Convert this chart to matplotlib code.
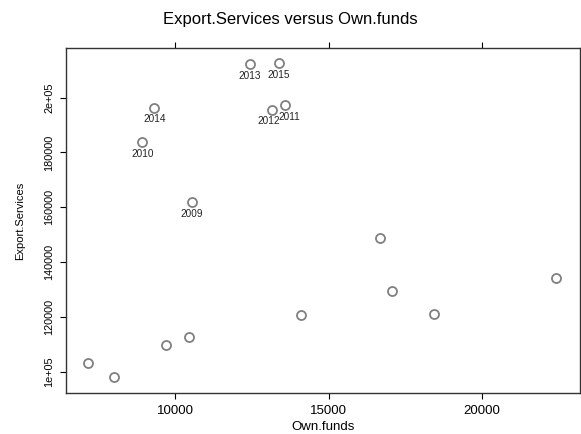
import matplotlib
matplotlib.use("Agg")
import matplotlib.pyplot as plt

plt.rcParams['font.family'] = ['Liberation Sans', 'DejaVu Sans']

# points (Own.funds vs Export.Services)
own_funds = [7152, 8001, 9680, 10451, 14089, 16669, 17071, 18452, 22427,
             10529, 8916, 13576, 13142, 12433, 9308, 13370]
export_services = [103280, 98180, 109630, 112770, 120610, 148660, 129440, 121160, 134180,
                   161800, 183690, 197180, 195450, 212140, 196200, 212500]
point_labels = ["", "", "", "", "", "", "", "", "",
                "2009", "2010", "2011", "2012", "2013", "2014", "2015"]

x_ticks = [10000, 15000, 20000]
y_ticks = [100000, 120000, 140000, 160000, 180000, 200000]
y_tick_labels = ["1e+05", "120000", "140000", "160000", "180000", "2e+05"]

fig = plt.figure(figsize=(5.81, 4.34), dpi=100)
ax = fig.add_axes([0.1136, 0.0945, 0.8847, 0.7942])

ax.plot(own_funds, export_services, linestyle='none', marker='o', markersize=6.5,
        markerfacecolor='none', markeredgecolor='#808080', markeredgewidth=1.3)

# small nudges so the 2011 / 2012 labels overlap a bit less
nudge = {"2011": 3, "2012": -2}
for x, y, lab in zip(own_funds, export_services, point_labels):
    if lab:
        ax.annotate(lab, (x, y), xytext=(nudge.get(lab, 0), -4.5), textcoords='offset points',
                    ha='center', va='top', fontsize=7.2, color='#222222')

ax.set_xlim(6424, 23211)
ax.set_ylim(92230, 217980)

ax.set_xticks(x_ticks)
ax.set_xticklabels([str(v) for v in x_ticks], fontsize=9.5)
ax.set_yticks(y_ticks)
ax.set_yticklabels(y_tick_labels, fontsize=7.8, rotation=90, va='center')
ax.tick_params(axis='x', direction='out', length=4.5, width=0.8, top=True, labeltop=False, pad=4)
ax.tick_params(axis='y', direction='out', length=4.5, width=0.8, pad=4)

for s in ax.spines.values():
    s.set_linewidth(1.0)
    s.set_color('#333333')

ax.set_xlabel("Own.funds", fontsize=9.5, labelpad=3)
ax.set_ylabel("Export.Services", fontsize=8, labelpad=14)
fig.text(0.5, 1 - 24 / 434, "Export.Services versus Own.funds", fontsize=12,
         ha='center', va='baseline')

fig.savefig("out.png", dpi=100)
